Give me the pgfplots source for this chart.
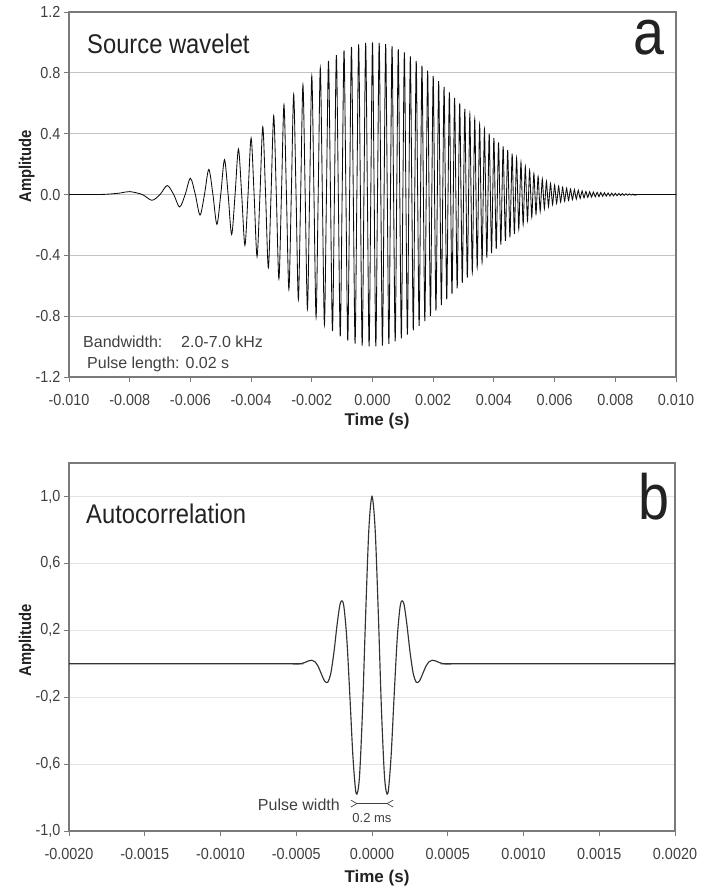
\documentclass[border=0pt]{standalone}
\usepackage{fontspec}
\setmainfont{Liberation Sans}
\newfontfamily\nsans[FakeStretch=0.88]{Liberation Sans}
\newfontfamily\tsans[FakeStretch=0.9]{Liberation Sans}
\newfontfamily\lsans[FakeStretch=0.87]{Liberation Sans}
\usepackage{pgfplots}
\usepackage{pgfplotstable}
\pgfplotsset{compat=1.18}
\definecolor{axisgray}{HTML}{7A7A7A}
\definecolor{gridA}{HTML}{C4C4C4}
\definecolor{gridB}{HTML}{E3E3E3}
\definecolor{txt}{HTML}{222222}
\definecolor{tickt}{HTML}{404040}

\pgfplotstableread{
x y
-0.010000 0
-0.009000 0
-0.008600 0.004
-0.008300 0.010
-0.008000 0.019
-0.007586 0
-0.007268 -0.038
-0.007000 0
-0.006764 0.059
-0.006551 0
-0.006354 -0.082
-0.006172 0
-0.006000 0.107
-0.005838 0
-0.005683 -0.135
-0.005536 0
-0.005394 0.165
-0.005258 0
-0.005127 -0.196
-0.005000 0
-0.004877 0.229
-0.004757 0
-0.004641 -0.263
-0.004528 0
-0.004417 0.298
-0.004310 0
-0.004204 -0.334
-0.004101 0
-0.004000 0.371
-0.003901 0
-0.003804 -0.408
-0.003708 0
-0.003615 0.445
-0.003523 0
-0.003432 -0.482
-0.003343 0
-0.003255 0.518
-0.003169 0
-0.003084 -0.555
-0.003000 0
-0.002917 0.590
-0.002836 0
-0.002755 -0.625
-0.002675 0
-0.002597 0.658
-0.002519 0
-0.002443 -0.691
-0.002367 0
-0.002292 0.722
-0.002218 0
-0.002144 -0.752
-0.002072 0
-0.002000 0.780
-0.001929 0
-0.001859 -0.807
-0.001789 0
-0.001720 0.832
-0.001652 0
-0.001584 -0.856
-0.001517 0
-0.001450 0.878
-0.001384 0
-0.001319 -0.898
-0.001254 0
-0.001190 0.916
-0.001126 0
-0.001063 -0.932
-0.001000 0
-0.000938 0.947
-0.000876 0
-0.000815 -0.960
-0.000754 0
-0.000693 0.971
-0.000633 0
-0.000574 -0.980
-0.000515 0
-0.000456 0.987
-0.000398 0
-0.000340 -0.993
-0.000282 0
-0.000225 0.997
-0.000168 0
-0.000112 -0.999
-0.000056 0
0.000000 1.000
0.000055 0
0.000110 -0.999
0.000165 0
0.000220 0.997
0.000274 0
0.000327 -0.993
0.000381 0
0.000434 0.988
0.000487 0
0.000539 -0.982
0.000592 0
0.000644 0.975
0.000695 0
0.000747 -0.966
0.000798 0
0.000849 0.956
0.000899 0
0.000950 -0.946
0.001000 0
0.001050 0.934
0.001100 0
0.001149 -0.921
0.001198 0
0.001247 0.908
0.001296 0
0.001344 -0.894
0.001392 0
0.001440 0.879
0.001488 0
0.001536 -0.864
0.001583 0
0.001630 0.848
0.001677 0
0.001724 -0.832
0.001770 0
0.001817 0.815
0.001863 0
0.001909 -0.798
0.001954 0
0.002000 0.780
0.002045 0
0.002091 -0.763
0.002136 0
0.002180 0.745
0.002225 0
0.002269 -0.727
0.002314 0
0.002358 0.708
0.002402 0
0.002446 -0.690
0.002489 0
0.002533 0.672
0.002576 0
0.002619 -0.654
0.002662 0
0.002705 0.635
0.002747 0
0.002790 -0.617
0.002832 0
0.002874 0.599
0.002916 0
0.002958 -0.581
0.003000 0
0.003042 0.563
0.003083 0
0.003124 -0.546
0.003166 0
0.003207 0.529
0.003247 0
0.003288 -0.512
0.003329 0
0.003369 0.495
0.003410 0
0.003450 -0.478
0.003490 0
0.003530 0.462
0.003570 0
0.003610 -0.446
0.003649 0
0.003689 0.430
0.003728 0
0.003767 -0.415
0.003806 0
0.003845 0.400
0.003884 0
0.003923 -0.385
0.003961 0
0.004000 0.371
0.004038 0
0.004077 -0.357
0.004115 0
0.004153 0.343
0.004191 0
0.004229 -0.330
0.004266 0
0.004304 0.317
0.004342 0
0.004379 -0.305
0.004416 0
0.004454 0.292
0.004491 0
0.004528 -0.281
0.004565 0
0.004601 0.269
0.004638 0
0.004675 -0.258
0.004711 0
0.004748 0.240
0.004784 0
0.004820 -0.226
0.004856 0
0.004892 0.212
0.004928 0
0.004964 -0.197
0.005000 0
0.005036 0.184
0.005071 0
0.005107 -0.172
0.005142 0
0.005177 0.160
0.005213 0
0.005248 -0.149
0.005283 0
0.005318 0.138
0.005353 0
0.005387 -0.128
0.005422 0
0.005457 0.119
0.005491 0
0.005526 -0.110
0.005560 0
0.005595 0.101
0.005629 0
0.005663 -0.093
0.005697 0
0.005731 0.086
0.005765 0
0.005799 -0.079
0.005832 0
0.005866 0.072
0.005900 0
0.005933 -0.066
0.005967 0
0.006000 0.062
0.006033 0
0.006067 -0.058
0.006100 0
0.006133 0.054
0.006166 0
0.006199 -0.050
0.006232 0
0.006264 0.047
0.006297 0
0.006330 -0.044
0.006362 0
0.006395 0.042
0.006427 0
0.006460 -0.039
0.006492 0
0.006524 0.036
0.006556 0
0.006588 -0.034
0.006620 0
0.006652 0.032
0.006684 0
0.006716 -0.030
0.006748 0
0.006780 0.028
0.006811 0
0.006843 -0.026
0.006875 0
0.006906 0.024
0.006937 0
0.006969 -0.022
0.007000 0
0.007031 0.020
0.007062 0
0.007093 -0.019
0.007125 0
0.007155 0.018
0.007186 0
0.007217 -0.017
0.007248 0
0.007279 0.016
0.007310 0
0.007340 -0.015
0.007371 0
0.007401 0.015
0.007432 0
0.007462 -0.014
0.007492 0
0.007523 0.013
0.007553 0
0.007583 -0.012
0.007613 0
0.007643 0.012
0.007673 0
0.007703 -0.011
0.007733 0
0.007763 0.010
0.007793 0
0.007823 -0.010
0.007852 0
0.007882 0.009
0.007912 0
0.007941 -0.009
0.007971 0
0.008000 0.008
0.008029 0
0.008059 -0.008
0.008088 0
0.008117 0.007
0.008146 0
0.008176 -0.007
0.008205 0
0.008234 0.006
0.008263 0
0.008292 -0.006
0.008321 0
0.008349 0.005
0.008378 0
0.008407 -0.005
0.008436 0
0.008464 0.004
0.008493 0
0.008521 -0.004
0.008550 0
0.008578 0.003
0.008607 0
0.008635 -0.003
0.008664 0
0.010000 0
}\wavelet

\pgfplotstableread{
x y
-0.0020000 0
-0.0005500 0
-0.0005225 -0.0018
-0.0005016 -0.0024
-0.0004807 -0.0015
-0.0004598 0.0023
-0.0004389 0.0093
-0.0004180 0.0174
-0.0003971 0.0209
-0.0003762 0.0116
-0.0003553 -0.0165
-0.0003344 -0.0604
-0.0003135 -0.1023
-0.0002926 -0.1110
-0.0002717 -0.0557
-0.0002508 0.0718
-0.0002299 0.2374
-0.0002090 0.3630
-0.0001881 0.3560
-0.0001672 0.1615
-0.0001463 -0.1881
-0.0001254 -0.5617
-0.0001045 -0.7762
-0.0000836 -0.6879
-0.0000627 -0.2821
-0.0000418 0.2967
-0.0000209 0.8008
0.0000000 1.0000
0.0000209 0.8008
0.0000418 0.2967
0.0000627 -0.2821
0.0000836 -0.6879
0.0001045 -0.7762
0.0001254 -0.5617
0.0001463 -0.1881
0.0001672 0.1615
0.0001881 0.3560
0.0002090 0.3630
0.0002299 0.2374
0.0002508 0.0718
0.0002717 -0.0557
0.0002926 -0.1110
0.0003135 -0.1023
0.0003344 -0.0604
0.0003553 -0.0165
0.0003762 0.0116
0.0003971 0.0209
0.0004180 0.0174
0.0004389 0.0093
0.0004598 0.0023
0.0004807 -0.0015
0.0005016 -0.0024
0.0005225 -0.0018
0.0005500 0
0.0020000 0
}\autocorr

\pgfplotsset{
  panel/.style={
    scale only axis,
    axis line style={draw=axisgray, line width=1.4pt},
    tick style={draw=axisgray, line width=1pt},
    major tick length=5pt,
    tick align=outside,
    tick pos=left,
    ymajorgrids,
    scaled x ticks=false,
    scaled y ticks=false,
    /pgf/number format/assume math mode=true,
    ticklabel style={font=\tsans\fontsize{16}{16}\selectfont, text=tickt},
    xticklabel style={anchor=base, yshift=-23pt},
  }
}

\begin{document}
\begin{tikzpicture}
\path[use as bounding box] (0pt,0pt) rectangle (706pt,-891pt);

\begin{axis}[panel,
  at={(69pt,-377pt)}, anchor=south west,
  width=607pt, height=365pt,
  xmin=-0.010, xmax=0.010, ymin=-1.2, ymax=1.2,
  xtick={-0.010,-0.008,-0.006,-0.004,-0.002,0,0.002,0.004,0.006,0.008,0.010},
  xticklabels={-0.010,-0.008,-0.006,-0.004,-0.002,0.000,0.002,0.004,0.006,0.008,0.010},
  ytick={-1.2,-0.8,-0.4,0,0.4,0.8,1.2},
  yticklabels={-1.2,-0.8,-0.4,0.0,0.4,0.8,1.2},
  grid style={draw=gridA, line width=0.9pt},
]
\addplot[smooth, line width=0.85pt, color=black!95] table[x=x,y=y] {\wavelet};
\end{axis}

\begin{axis}[panel,
  at={(69pt,-831pt)}, anchor=south west,
  width=606pt, height=368pt,
  xmin=-0.002, xmax=0.002, ymin=-1.0, ymax=1.2,
  xtick={-0.002,-0.0015,-0.001,-0.0005,0,0.0005,0.001,0.0015,0.002},
  xticklabels={-0.0020,-0.0015,-0.0010,-0.0005,0.0000,0.0005,0.0010,0.0015,0.0020},
  ytick={-1.0,-0.6,-0.2,0.2,0.6,1.0},
  yticklabels={{-1,0},{-0,6},{-0,2},{0,2},{0,6},{1,0}},
  grid style={draw=gridB, line width=0.9pt},
]
\addplot[smooth, line width=1.15pt, color=black!80] table[x=x,y=y] {\autocorr};
\draw[tickt, line width=0.7pt] (axis cs:-0.0001,-0.836) -- (axis cs:0.0001,-0.836);
\draw[tickt, line width=0.7pt] (axis cs:-0.0001,-0.836) -- ++(-6pt,3.5pt);
\draw[tickt, line width=0.7pt] (axis cs:-0.0001,-0.836) -- ++(-6pt,-3.5pt);
\draw[tickt, line width=0.7pt] (axis cs:0.0001,-0.836) -- ++(6pt,3.5pt);
\draw[tickt, line width=0.7pt] (axis cs:0.0001,-0.836) -- ++(6pt,-3.5pt);
\end{axis}

% panel a texts
\node[inner sep=0pt, anchor=base west, text=txt, font=\nsans\fontsize{27}{27}\selectfont] at (87pt,-53pt) {Source wavelet};
\node[inner sep=0pt, anchor=base east, text=txt, font=\lsans\fontsize{64}{64}\selectfont] at (665pt,-55pt) {a};
\node[inner sep=0pt, anchor=base west, text=tickt, font=\fontsize{16}{16}\selectfont] at (83pt,-347pt) {Bandwidth:};
\node[inner sep=0pt, anchor=base west, text=tickt, font=\fontsize{16}{16}\selectfont] at (181pt,-347pt) {2.0-7.0 kHz};
\node[inner sep=0pt, anchor=base west, text=tickt, font=\fontsize{16}{16}\selectfont] at (87pt,-368pt) {Pulse length: 0.02 s};
\node[inner sep=0pt, anchor=base, rotate=90, text=txt, font=\lsans\bfseries\fontsize{17}{17}\selectfont] at (31pt,-166pt) {Amplitude};
\node[inner sep=0pt, anchor=base, text=txt, font=\bfseries\fontsize{17}{17}\selectfont] at (377pt,-425pt) {Time (s)};

% panel b texts
\node[inner sep=0pt, anchor=base west, text=txt, font=\nsans\fontsize{27}{27}\selectfont] at (86pt,-523pt) {Autocorrelation};
\node[inner sep=0pt, anchor=base east, text=txt, font=\lsans\fontsize{64}{64}\selectfont] at (670pt,-519pt) {b};
\node[inner sep=0pt, anchor=base east, text=tickt, font=\fontsize{16}{16}\selectfont] at (340pt,-810pt) {Pulse width};
\node[inner sep=0pt, anchor=base, text=tickt, font=\fontsize{13}{13}\selectfont] at (372pt,-822pt) {0.2 ms};
\node[inner sep=0pt, anchor=base, rotate=90, text=txt, font=\lsans\bfseries\fontsize{17}{17}\selectfont] at (31pt,-640pt) {Amplitude};
\node[inner sep=0pt, anchor=base, text=txt, font=\bfseries\fontsize{17}{17}\selectfont] at (377pt,-882pt) {Time (s)};
\end{tikzpicture}
\end{document}
